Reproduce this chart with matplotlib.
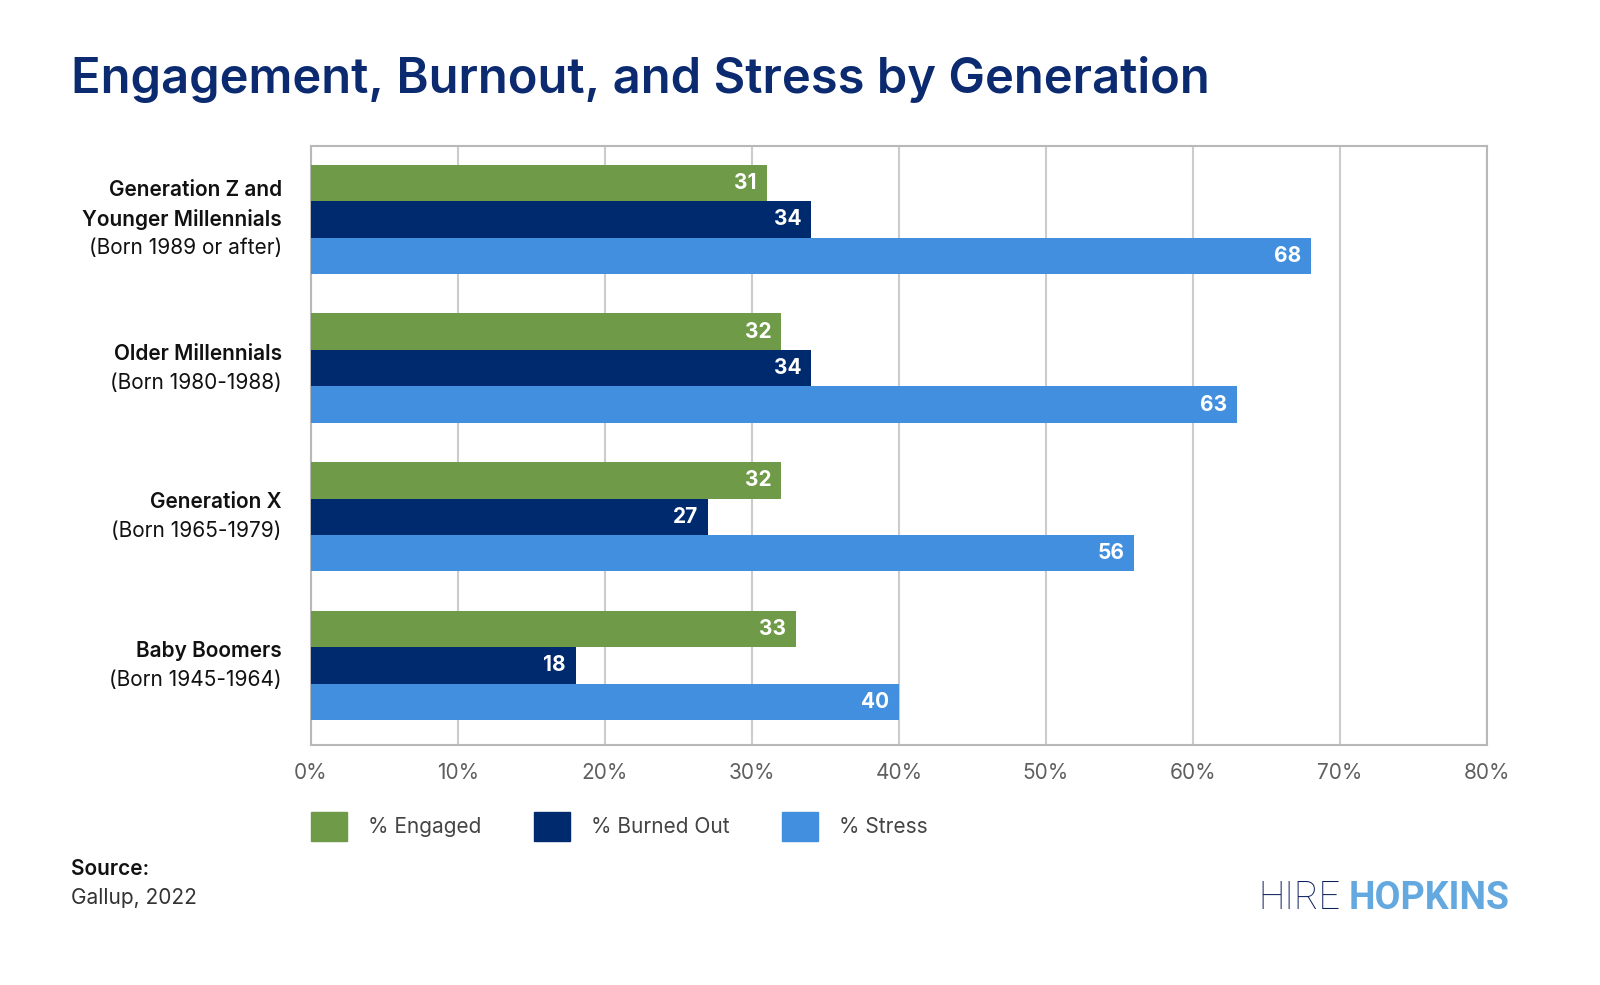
import numpy as np
import matplotlib.pyplot as plt
from matplotlib.patches import Patch

# data (percent)
groups = [["Generation Z and", "Younger Millennials"], ["Older Millennials"],
          ["Generation X"], ["Baby Boomers"]]
born = ["(Born 1989 or after)", "(Born 1980-1988)", "(Born 1965-1979)", "(Born 1945-1964)"]
series = ["% Engaged", "% Burned Out", "% Stress"]
engaged = [31, 32, 32, 33]
burned_out = [34, 34, 27, 18]
stress = [68, 63, 56, 40]
xticks = [0, 10, 20, 30, 40, 50, 60, 70, 80]

colours = ['#6f9a48', '#002a6e', '#418fde']
navy = '#0b2a6f'

plt.rcParams['font.family'] = ['Inter', 'DejaVu Sans']

fig = plt.figure(figsize=(16, 9.85), dpi=100)
ax = fig.add_axes([311/1600, 1-745/985, (1487-311)/1600, (745-146)/985])

y = np.arange(len(groups))
h = 0.245
for k, vals in enumerate([engaged, burned_out, stress]):
    bars = ax.barh(y + (k-1)*h, vals, height=h, color=colours[k], zorder=3)
    for b, v in zip(bars, vals):
        ax.annotate(str(v), xy=(b.get_width(), b.get_y() + h/2), xytext=(-7, 0),
                    textcoords='offset points', ha='right', va='center',
                    color='white', fontsize=15, fontweight='bold', zorder=4)

ax.set_xlim(0, 80)
ax.set_ylim(3.535, -0.494)
ax.set_xticks(xticks)
ax.set_xticklabels([f"{t}%" for t in xticks], fontsize=15, color='#5f5f5f')
ax.tick_params(axis='x', length=0, pad=13)
ax.set_yticks([])
ax.grid(axis='x', color='#cccccc', linewidth=1.5, zorder=0)
for s in ax.spines.values():
    s.set_color('#b8b8b8')
    s.set_linewidth(1.5)

# category labels
for i, (names, b) in enumerate(zip(groups, born)):
    lines = names + [b]
    n = len(lines)
    for j, line in enumerate(lines):
        ax.annotate(line, xy=(0, i), xycoords=ax.get_yaxis_transform(),
                    xytext=(-21, ((n-1)/2 - j)*20.9), textcoords='offset points',
                    ha='right', va='center', fontsize=15, color='#111111',
                    fontweight='semibold' if j < n-1 else 'normal')

fig.text(71/1600, 1-93/985, "Engagement, Burnout, and Stress by Generation",
         fontsize=35.2, fontweight='semibold', color=navy, va='baseline')

handles = [Patch(color=c) for c in colours]
fig.legend(handles, series, loc='upper left', bbox_to_anchor=(311/1600, 1-812/985),
           ncol=3, frameon=False, fontsize=15, handlelength=1.75, handleheight=1.75,
           handletextpad=1.0, columnspacing=2.5, borderpad=0, borderaxespad=0,
           labelcolor='#444444')

fig.text(71/1600, 1-869/985, "Source:", fontsize=15, fontweight='semibold',
         color='#111111', va='center')
fig.text(71/1600, 1-898/985, "Gallup, 2022", fontsize=15, color='#333333', va='center')

# logo
logo_font = ['Roboto', 'DejaVu Sans']
fig.text(1258/1600, 1-909/985, "HIRE", fontsize=27, fontweight='light',
         color='#0b1f5c', family=logo_font, va='baseline', ha='left')
fig.text(1510/1600, 1-909/985, "HOPKINS", fontsize=27, fontweight='bold',
         color='#64a8e0', family=logo_font, va='baseline', ha='right')

fig.savefig('out.png', dpi=100)
